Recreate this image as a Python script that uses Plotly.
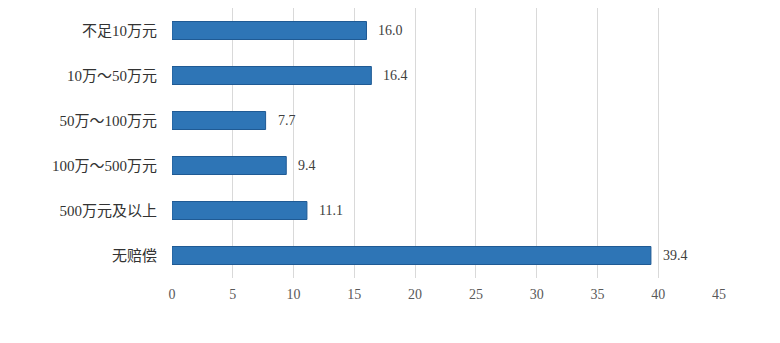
import plotly.graph_objects as go

# Compensation amount brackets (top to bottom) and their shares (%)
categories = ["不足10万元", "10万～50万元", "50万～100万元", "100万～500万元", "500万元及以上", "无赔偿"]
values = [16.0, 16.4, 7.7, 9.4, 11.1, 39.4]
x_ticks = [0, 5, 10, 15, 20, 25, 30, 35, 40, 45]

serif = "Liberation Serif, Noto Sans CJK SC, serif"

fig = go.Figure(
    go.Bar(
        y=categories,
        x=values,
        orientation="h",
        width=0.4,
        marker=dict(color="#2E75B6", line=dict(color="#1F5A94", width=1)),
        hoverinfo="x+y",
    )
)

# Value labels placed just right of each bar end
for cat, val in zip(categories, values):
    fig.add_annotation(
        x=val,
        y=cat,
        text=f"{val:.1f}",
        showarrow=False,
        xanchor="left",
        yanchor="middle",
        xshift=10,
        font=dict(family=serif, size=14, color="#404040"),
    )

fig.update_layout(
    width=780,
    height=343,
    margin=dict(l=172, r=61, t=8, b=65),
    paper_bgcolor="white",
    plot_bgcolor="white",
    showlegend=False,
)

fig.update_xaxes(
    range=[0, 45],
    tickvals=x_ticks,
    showgrid=True,
    gridcolor="#D9D9D9",
    gridwidth=1,
    zeroline=False,
    showline=False,
    ticks="",
    ticklabelstandoff=6,
    tickfont=dict(family=serif, size=14, color="#595959"),
)

fig.update_yaxes(
    categoryorder="array",
    categoryarray=categories,
    autorange="reversed",
    showgrid=False,
    zeroline=False,
    showline=False,
    ticks="",
    ticklabelstandoff=14,
    tickfont=dict(family=serif, size=15, color="#333333"),
)

fig.write_html("out.html")
